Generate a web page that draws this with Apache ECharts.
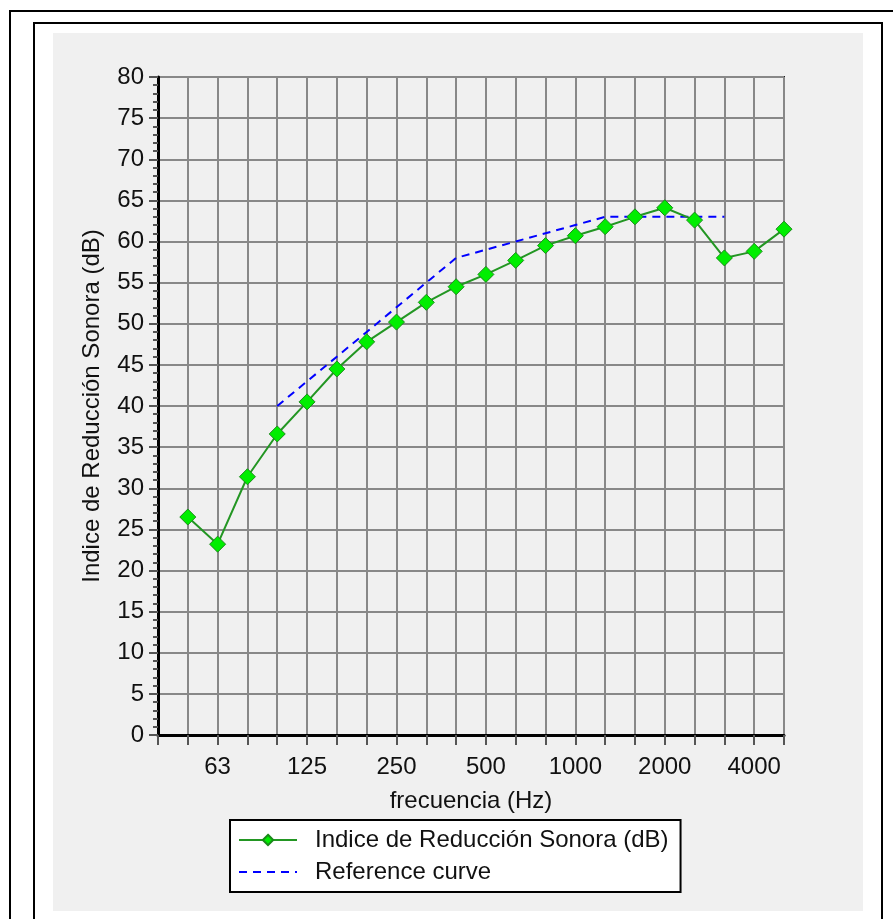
<!DOCTYPE html>
<html>
<head>
<meta charset="utf-8">
<script src="https://cdn.jsdelivr.net/npm/echarts@6/dist/echarts.min.js"></script>
<style>
  html, body { margin: 0; padding: 0; background: #ffffff; width: 893px; height: 919px; overflow: hidden; }
  #outer { position: absolute; left: 9px; top: 10px; width: 900px; height: 930px; border-left: 2px solid #000; border-top: 2px solid #000; }
  #inner { position: absolute; left: 33px; top: 22px; width: 846px; height: 930px; border-left: 2px solid #000; border-top: 2px solid #000; border-right: 2px solid #000; }
  #chart { position: absolute; left: 53px; top: 33px; width: 810px; height: 878px; background: #f0f0f0; }
</style>
</head>
<body>
<div id="outer"></div>
<div id="inner"></div>
<div id="chart"></div>
<script>
// Third-octave band centre frequencies (Hz)
const freqs = ['50','63','80','100','125','160','200','250','315','400','500','630','800','1000','1250','1600','2000','2500','3150','4000','5000'];
// Labelled frequencies on the x axis
const tickLabels = ['63','125','250','500','1000','2000','4000'];
// Indice de Reducción Sonora (dB)
const sriValues = [26.5, 23.2, 31.4, 36.6, 40.5, 44.5, 47.8, 50.2, 52.6, 54.5, 56.0, 57.7, 59.5, 60.7, 61.8, 63.0, 64.1, 62.6, 58.0, 58.8, 61.5];
// Reference curve (100 Hz .. 3150 Hz)
const refFreqs = ['100','125','160','200','250','315','400','500','630','800','1000','1250','1600','2000','2500','3150'];
const refValues = [40, 43, 46, 49, 52, 55, 58, 59, 60, 61, 62, 63, 63, 63, 63, 63];

const FONT = '"Liberation Sans", Arial, sans-serif';
const sriData = sriValues.map((v, i) => [i, v]);
const refData = refValues.map((v, k) => [freqs.indexOf(refFreqs[k]), v]);

const chart = echarts.init(document.getElementById('chart'), null, { renderer: 'canvas' });
chart.setOption({
  animation: false,
  backgroundColor: '#f0f0f0',
  textStyle: { fontFamily: FONT },
  grid: {
    left: 105, top: 44, width: 626, height: 658,
    show: true, borderColor: '#222', borderWidth: 2, backgroundColor: 'transparent'
  },
  xAxis: {
    type: 'value', min: -1, max: 20, interval: 1,
    name: 'frecuencia (Hz)', nameLocation: 'middle', nameGap: 54,
    nameTextStyle: { fontSize: 24, color: '#111', fontFamily: FONT },
    axisLine: { show: true, onZero: false, lineStyle: { color: '#000', width: 3 } },
    axisTick: { show: true, length: 10, lineStyle: { color: '#555', width: 2 } },
    axisLabel: {
      fontSize: 24, color: '#111', margin: 20, fontFamily: FONT,
      showMinLabel: true, showMaxLabel: true,
      formatter: function (v) {
        const f = freqs[v];
        return (f !== undefined && tickLabels.indexOf(f) >= 0) ? f : '';
      }
    },
    splitLine: { show: true, lineStyle: { color: '#888', width: 2 } }
  },
  yAxis: {
    type: 'value', min: 0, max: 80, interval: 5,
    name: 'Indice de Reducción Sonora (dB)', nameLocation: 'middle', nameGap: 54,
    nameTextStyle: { fontSize: 24, color: '#111', fontFamily: FONT },
    axisLine: { show: true, onZero: false, lineStyle: { color: '#000', width: 3 } },
    axisTick: { show: true, length: 9, lineStyle: { color: '#555', width: 2 } },
    minorTick: { show: true, splitNumber: 5, length: 5, lineStyle: { color: '#555', width: 2 } },
    axisLabel: { fontSize: 24, color: '#111', margin: 14, fontFamily: FONT },
    splitLine: { show: true, lineStyle: { color: '#888', width: 2 } }
  },
  legend: {
    orient: 'vertical',
    left: 177, top: 787,
    backgroundColor: '#ffffff', borderColor: '#000', borderWidth: 2,
    padding: [8, 12, 8, 8],
    itemGap: 8, itemWidth: 58, itemHeight: 13,
    textStyle: { fontSize: 24, color: '#111', fontFamily: FONT, padding: [0, 0, 0, 13] },
    data: [
      { name: 'Indice de Reducción Sonora (dB)' },
      { name: 'Reference curve', itemStyle: { opacity: 0 } }
    ]
  },
  series: [
    {
      name: 'Indice de Reducción Sonora (dB)',
      type: 'line',
      data: sriData,
      symbol: 'diamond', symbolSize: 16,
      lineStyle: { color: '#239623', width: 2 },
      itemStyle: { color: '#00ee00', borderColor: '#1a8a1a', borderWidth: 1 },
      z: 3
    },
    {
      name: 'Reference curve',
      type: 'line',
      data: refData,
      symbol: 'none', showSymbol: false,
      lineStyle: { color: '#0000ff', width: 2, type: [8, 6] },
      itemStyle: { color: '#0000ff' },
      z: 2
    }
  ]
});
</script>
</body>
</html>
